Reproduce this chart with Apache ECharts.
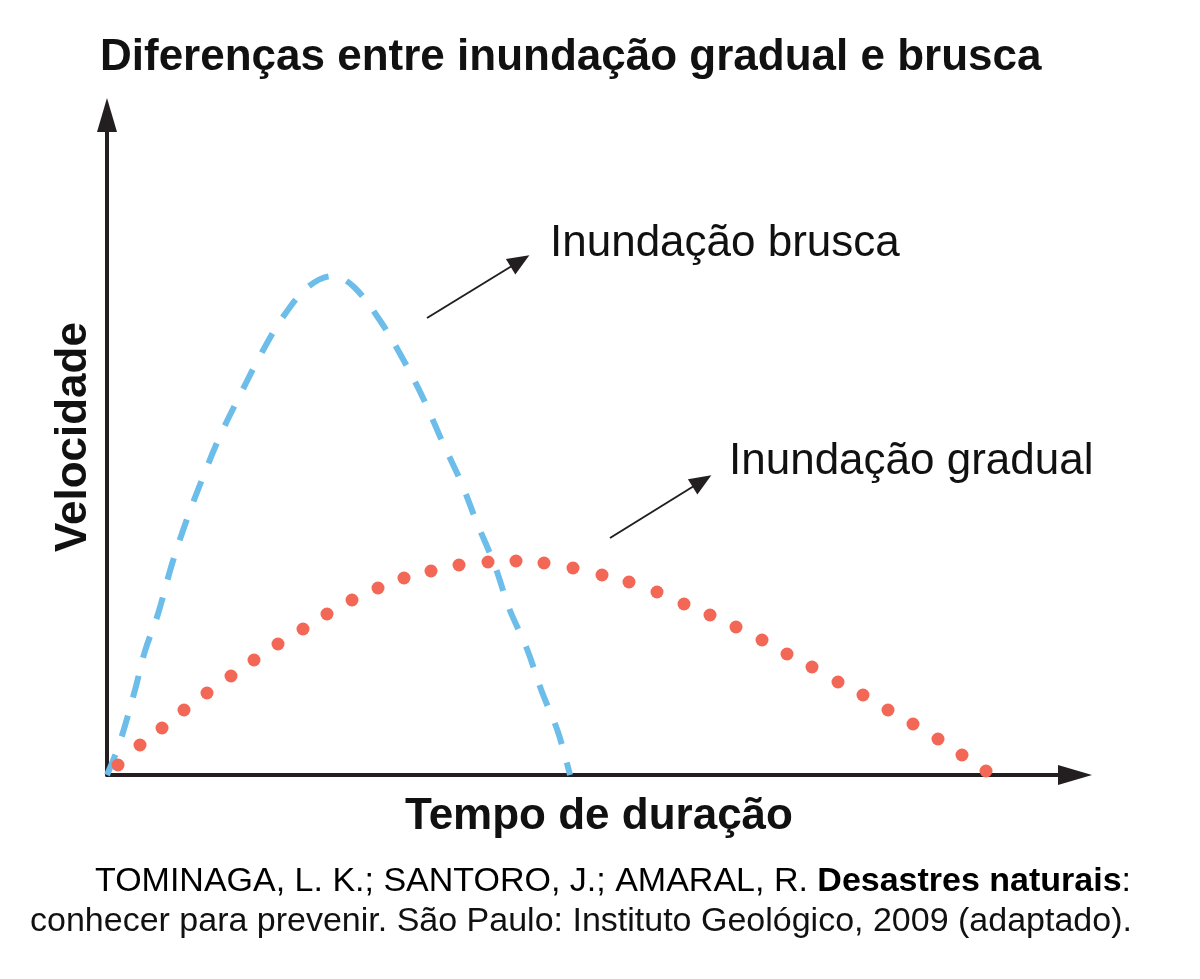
<!DOCTYPE html>
<html>
<head>
<meta charset="utf-8">
<title>Diferenças entre inundação gradual e brusca</title>
<script src="https://cdn.jsdelivr.net/npm/echarts@6/dist/echarts.min.js"></script>
<style>
  html, body { margin: 0; padding: 0; background: #fff; }
  #chart { width: 1200px; height: 979px; }
</style>
</head>
<body>
<div id="chart"></div>
<script>
// curva tracejada (inundação brusca): [tempo, velocidade]
const bruscaTempo = [0, 12, 28, 38, 51, 65, 80, 96, 113, 133, 154, 176, 201, 226, 247, 274, 297, 317, 335, 354, 370, 388, 402, 420, 435, 451, 463];
const bruscaVeloc = [0, 30, 85, 124, 161, 211, 256, 298, 339, 380, 421, 458, 488, 499, 488, 453, 414, 375, 334, 293, 252, 209, 167, 126, 83, 43, 0];

// pontos (inundação gradual)
const gradualTempo = [11, 33, 55, 77, 100, 124, 147, 171, 196, 220, 245, 271, 297, 324, 352, 381, 409, 437, 466, 495, 522, 550, 577, 603, 629, 655, 680, 705, 731, 756, 781, 806, 831, 855, 879];
const gradualVeloc = [10, 30, 47, 65, 82, 99, 115, 131, 146, 161, 175, 187, 197, 204, 210, 213, 214, 212, 207, 200, 193, 183, 171, 160, 148, 135, 121, 108, 93, 80, 65, 51, 36, 20, 4];

// setas das legendas [início, fim]
const setaBrusca = [[320, 457], [413, 514]];
const setaGradual = [[503, 237], [595, 294]];

const rotulos = ['Inundação brusca', 'Inundação gradual'];

const corAzul = '#6cbde9';
const corVermelho = '#f26755';
const corEixo = '#231f20';

const zip = (a, b) => a.map((v, i) => [v, b[i]]);

const chart = echarts.init(document.getElementById('chart'));

const option = {
  animation: false,
  backgroundColor: '#fff',
  title: {
    text: 'Diferenças entre inundação gradual e brusca',
    left: 95,
    top: 31,
    textStyle: { fontFamily: 'Liberation Sans', fontWeight: 'bold', fontSize: 44, color: '#111' }
  },
  grid: { left: 107, top: 115, right: 125, bottom: 204 },
  xAxis: {
    type: 'value', min: 0, max: 968,
    axisLine: { show: true, onZero: false, symbol: ['none', 'triangle'], symbolSize: [20, 34],
      lineStyle: { color: corEixo, width: 4 } },
    axisTick: { show: false }, axisLabel: { show: false }, splitLine: { show: false }
  },
  yAxis: {
    type: 'value', min: 0, max: 660,
    axisLine: { show: true, onZero: false, symbol: ['none', 'triangle'], symbolSize: [20, 34],
      lineStyle: { color: corEixo, width: 4 } },
    axisTick: { show: false }, axisLabel: { show: false }, splitLine: { show: false }
  },
  series: [
    {
      name: rotulos[0],
      type: 'line',
      smooth: 0.35,
      showSymbol: false,
      data: zip(bruscaTempo, bruscaVeloc),
      lineStyle: { color: corAzul, width: 6, type: [22, 19] },
      z: 3,
      markLine: {
        silent: true,
        symbol: ['none', 'triangle'],
        symbolSize: [18, 22],
        label: { show: false },
        lineStyle: { color: corEixo, width: 2, type: 'solid' },
        data: [
          [{ coord: setaBrusca[0] }, { coord: setaBrusca[1] }],
          [{ coord: setaGradual[0] }, { coord: setaGradual[1] }]
        ]
      }
    },
    {
      name: rotulos[1],
      type: 'scatter',
      symbol: 'circle',
      symbolSize: 13,
      data: zip(gradualTempo, gradualVeloc),
      itemStyle: { color: corVermelho, opacity: 1 },
      z: 4
    }
  ],
  graphic: [
    {
      type: 'text', left: 550, top: 222,
      style: { text: rotulos[0], font: '44px "Liberation Sans"', fill: '#111' }
    },
    {
      type: 'text', left: 729, top: 440,
      style: { text: rotulos[1], font: '44px "Liberation Sans"', fill: '#111' }
    },
    {
      type: 'text', x: 74, y: 437, rotation: Math.PI / 2,
      style: { text: 'Velocidade', font: 'bold 44px "Liberation Sans"', fill: '#111', align: 'center', verticalAlign: 'middle' }
    },
    {
      type: 'text', x: 599, y: 817,
      style: { text: 'Tempo de duração', font: 'bold 44px "Liberation Sans"', fill: '#111', align: 'center', verticalAlign: 'middle' }
    },
    {
      type: 'text', x: 95, y: 882,
      style: {
        text: '{a|TOMINAGA, L. K.; SANTORO, J.; AMARAL, R. }{b|Desastres naturais}{a|:}',
        verticalAlign: 'middle',
        rich: {
          a: { fontFamily: 'Liberation Sans', fontSize: 34, color: '#111' },
          b: { fontFamily: 'Liberation Sans', fontSize: 34, fontWeight: 'bold', color: '#111' }
        }
      }
    },
    {
      type: 'text', x: 30, y: 922,
      style: { text: 'conhecer para prevenir. São Paulo: Instituto Geológico, 2009 (adaptado).',
        font: '34px "Liberation Sans"', fill: '#111', verticalAlign: 'middle' }
    }
  ]
};

chart.setOption(option);
</script>
</body>
</html>
